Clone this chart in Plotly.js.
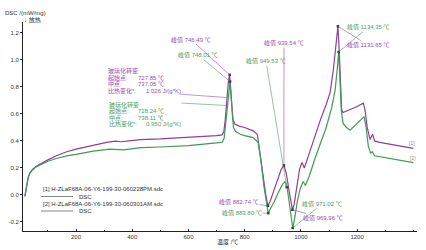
<!DOCTYPE html>
<html>
<head>
<meta charset="utf-8">
<script src="https://cdn.plot.ly/plotly-3.0.1.min.js"></script>
<style>html,body{margin:0;padding:0;background:#fff;}#chart{width:426px;height:250px;}</style>
</head>
<body>
<div id="chart"></div>
<script>
// ---- data ----
const tempPurple = [18, 22, 26, 30, 36, 45, 60, 80, 100, 130, 167, 200, 261, 309, 340, 360, 380, 428, 500, 550, 600, 650, 700, 720, 726, 731, 737, 742, 746.5, 750, 754, 758, 765, 780, 800, 830, 845, 855, 865, 875, 882.7, 890, 900, 919, 930, 939.5, 948, 958, 965, 970, 976, 985, 995, 1004, 1012, 1030, 1050, 1070, 1090, 1104, 1115, 1125, 1131.7, 1136, 1140, 1145, 1150, 1175, 1200, 1222, 1228, 1236, 1246, 1255, 1262, 1280, 1320, 1360, 1400];
const dscPurple = [-0.01, 0.04, 0.09, 0.13, 0.165, 0.19, 0.215, 0.24, 0.26, 0.29, 0.32, 0.34, 0.37, 0.39, 0.398, 0.394, 0.398, 0.41, 0.415, 0.42, 0.425, 0.43, 0.44, 0.445, 0.47, 0.56, 0.72, 0.84, 0.89, 0.80, 0.64, 0.56, 0.525, 0.51, 0.50, 0.475, 0.45, 0.30, 0.12, 0.0, -0.08, -0.05, 0.01, 0.13, 0.19, 0.22, 0.16, 0.03, -0.06, -0.11, -0.07, 0.06, 0.19, 0.24, 0.20, 0.31, 0.44, 0.56, 0.67, 0.76, 0.92, 1.12, 1.25, 1.08, 0.82, 0.63, 0.61, 0.63, 0.655, 0.68, 0.63, 0.50, 0.41, 0.45, 0.40, 0.39, 0.375, 0.36, 0.345];

const tempGreen = [18, 22, 26, 30, 36, 45, 60, 80, 100, 130, 167, 200, 261, 321, 345, 367, 390, 430, 500, 600, 700, 720, 727, 732, 738, 744, 748, 752, 756, 760, 768, 785, 800, 830, 848, 858, 868, 877, 883.8, 892, 905, 920, 935, 944, 952, 960, 966, 971, 978, 988, 998, 1008, 1016, 1030, 1050, 1070, 1090, 1110, 1122, 1130, 1134.4, 1139, 1144, 1150, 1162, 1175, 1190, 1210, 1225, 1232, 1240, 1248, 1254, 1262, 1300, 1350, 1400];
const dscGreen = [-0.01, 0.04, 0.09, 0.13, 0.16, 0.185, 0.21, 0.232, 0.25, 0.27, 0.29, 0.30, 0.325, 0.34, 0.338, 0.334, 0.34, 0.35, 0.355, 0.365, 0.385, 0.39, 0.42, 0.52, 0.66, 0.79, 0.84, 0.72, 0.57, 0.50, 0.47, 0.45, 0.44, 0.425, 0.39, 0.25, 0.07, -0.07, -0.135, -0.10, -0.05, 0.02, 0.08, 0.10, 0.04, -0.08, -0.18, -0.245, -0.17, -0.04, 0.05, 0.10, 0.07, 0.14, 0.27, 0.38, 0.50, 0.65, 0.78, 0.95, 1.06, 0.85, 0.62, 0.53, 0.50, 0.48, 0.51, 0.555, 0.58, 0.50, 0.36, 0.31, 0.32, 0.29, 0.275, 0.26, 0.24];

const xTicks = [200, 400, 600, 800, 1000, 1200];
const yTicks = [-0.2, 0.0, 0.2, 0.4, 0.6, 0.8, 1.0, 1.2];

const peakTempPurple = [746.49, 939.54, 882.74, 969.96, 1131.65];
const peakTempGreen = [748.01, 949.53, 883.80, 971.02, 1134.35];

const glassPurple = {onset: "727.85 ℃", mid: "737.05 ℃", cp: "1.026 J/(g*K)", midT: 737.05};
const glassGreen = {onset: "728.24 ℃", mid: "738.11 ℃", cp: "0.950 J/(g*K)", midT: 738.11};

const file1 = "[1] H-ZLaF68A-06-Y6-199-30-060228PM.sdc";
const file2 = "[2] H-ZLaF68A-06-Y6-199-30-060301AM.sdc";

// ---- styling / layout ----
const W = 426, H = 250;
const M = {l: 23, r: 9, t: 22, b: 19};
const xR = [11.4, 1413], yR = [-0.267, 1.281];
const cP = "#8e3f99", cG = "#409a52";
const tP = "#a04cae", tG = "#4d9e5c";
const FF = "Arial, 'Liberation Sans', 'Noto Sans CJK SC', sans-serif";

const pw = W - M.l - M.r, ph = H - M.t - M.b;
const pxX = px => xR[0] + (px - M.l) / pw * (xR[1] - xR[0]);
const pxY = py => yR[0] + (H - M.b - py) / ph * (yR[1] - yR[0]);
const paperX = px => (px - M.l) / pw;
const paperY = py => (H - M.b - py) / ph;

function interp(ts, vs, t) {
  for (let i = 0; i < ts.length - 1; i++) {
    if (t >= ts[i] && t <= ts[i + 1]) {
      const f = (t - ts[i]) / (ts[i + 1] - ts[i]);
      return vs[i] + f * (vs[i + 1] - vs[i]);
    }
  }
  return vs[vs.length - 1];
}

const traces = [
  {x: tempPurple, y: dscPurple, type: 'scatter', mode: 'lines', line: {color: cP, width: 1.2}, hoverinfo: 'skip'},
  {x: tempGreen, y: dscGreen, type: 'scatter', mode: 'lines', line: {color: cG, width: 1.2}, hoverinfo: 'skip'},
  {x: peakTempPurple.concat(peakTempGreen),
   y: peakTempPurple.map(t => interp(tempPurple, dscPurple, t)).concat(peakTempGreen.map(t => interp(tempGreen, dscGreen, t))),
   type: 'scatter', mode: 'markers', marker: {color: '#333', size: 2.5, symbol: 'square'}, hoverinfo: 'skip'}
];

const ann = [];
function txt(text, px, py, color, size, anchor) {
  ann.push({text: text, xref: 'paper', yref: 'paper', x: paperX(px), y: paperY(py),
    xanchor: anchor || 'left', yanchor: 'middle', showarrow: false,
    font: {family: FF, size: size || 6, color: color}});
}
function peakLabel(text, cx, cy, color, ts, vs, t) {
  ann.push({text: text, x: t, y: interp(ts, vs, t), xref: 'x', yref: 'y',
    axref: 'x', ayref: 'y', ax: pxX(cx), ay: pxY(cy),
    showarrow: true, arrowhead: 0, arrowwidth: 0.6, arrowcolor: color, standoff: 0,
    font: {family: FF, size: 6, color: color}, borderpad: 0});
}

// axis titles
txt("DSC /(mW/mg)", 3, 13, '#333', 6);
txt("↓ 放热", 22, 20, '#333', 6);
txt("温度 /℃", 228, 241.5, '#333', 6, 'center');

// peak labels
peakLabel("峰值 746.49 ℃", 191, 39.5, tP, tempPurple, dscPurple, peakTempPurple[0]);
peakLabel("峰值 748.01 ℃", 198, 55, tG, tempGreen, dscGreen, peakTempGreen[0]);
peakLabel("峰值 939.54 ℃", 284, 43, tP, tempPurple, dscPurple, peakTempPurple[1]);
peakLabel("峰值 949.53 ℃", 266, 61, tG, tempGreen, dscGreen, peakTempGreen[1]);
peakLabel("峰值 882.74 ℃", 239, 202, tP, tempPurple, dscPurple, peakTempPurple[2]);
peakLabel("峰值 883.80 ℃", 242, 213, tG, tempGreen, dscGreen, peakTempGreen[2]);
peakLabel("峰值 971.02 ℃", 322, 204, tG, tempGreen, dscGreen, peakTempGreen[3]);
peakLabel("峰值 969.96 ℃", 322.5, 218, tP, tempPurple, dscPurple, peakTempPurple[3]);
peakLabel("峰值 1134.35 ℃", 368.5, 27, tG, tempGreen, dscGreen, peakTempGreen[4]);
peakLabel("峰值 1131.65 ℃", 368, 45, tP, tempPurple, dscPurple, peakTempPurple[4]);

// glass transition blocks
function glassBlock(g, x0, y0, color) {
  txt("玻璃化转变", x0, y0, color);
  txt("起始点:", x0, y0 + 6.5, color);
  txt(g.onset, 136, y0 + 6.5, color);
  txt("中点:", x0, y0 + 13, color);
  txt(g.mid, 136, y0 + 13, color);
  txt("比热变化*:", x0, y0 + 19.5, color);
  txt(g.cp, 144, y0 + 19.5, color);
}
glassBlock(glassPurple, 106, 71, tP);
glassBlock(glassGreen, 107, 105, tG);
ann.push({text: " ", x: glassPurple.midT, y: interp(tempPurple, dscPurple, glassPurple.midT), xref: 'x', yref: 'y',
  axref: 'x', ayref: 'y', ax: pxX(178), ay: pxY(94), showarrow: true, arrowhead: 0, arrowwidth: 0.6, arrowcolor: tP, font: {size: 1}});
ann.push({text: " ", x: glassGreen.midT, y: interp(tempGreen, dscGreen, glassGreen.midT), xref: 'x', yref: 'y',
  axref: 'x', ayref: 'y', ax: pxX(180), ay: pxY(103), showarrow: true, arrowhead: 0, arrowwidth: 0.6, arrowcolor: tG, font: {size: 1}});

// legend block
txt(file1, 41, 189, '#333', 6);
txt("DSC", 77, 196.5, '#333', 6);
txt(file2, 41, 203.5, '#333', 6);
txt("DSC", 77, 211, '#333', 6);
// curve end tags
txt("[1]", 412, 143, '#a07ca8', 5, 'center');
txt("[2]", 413, 158, '#7ca888', 5, 'center');

const shapes = [
  {type: 'line', xref: 'paper', yref: 'paper', x0: paperX(41), x1: paperX(73), y0: paperY(196.5), y1: paperY(196.5), line: {color: '#555', width: 0.7}},
  {type: 'line', xref: 'paper', yref: 'paper', x0: paperX(41), x1: paperX(73), y0: paperY(211), y1: paperY(211), line: {color: '#555', width: 0.7}}
];

const layout = {
  width: W, height: H, margin: M, showlegend: false,
  paper_bgcolor: '#fff', plot_bgcolor: '#fff',
  font: {family: FF, size: 6, color: '#333'},
  xaxis: {range: xR, tickvals: xTicks, ticktext: xTicks.map(String), showline: true, linecolor: '#222', linewidth: 1,
    ticks: 'inside', ticklen: 2, tickcolor: '#222', showgrid: false, zeroline: false,
    tickfont: {family: FF, size: 6, color: '#333'},
    minor: {dtick: 100, tick0: 0, ticks: 'inside', ticklen: 1.5, tickcolor: '#222', showgrid: false}},
  yaxis: {range: yR, tickvals: yTicks, ticktext: yTicks.map(v => v.toFixed(1)), showline: true, linecolor: '#222', linewidth: 1,
    ticks: 'outside', ticklen: 2, tickcolor: '#222', showgrid: false, zeroline: false,
    tickfont: {family: FF, size: 6, color: '#333'}},
  annotations: ann, shapes: shapes
};

Plotly.newPlot('chart', traces, layout, {displayModeBar: false, staticPlot: true});
</script>
</body>
</html>
